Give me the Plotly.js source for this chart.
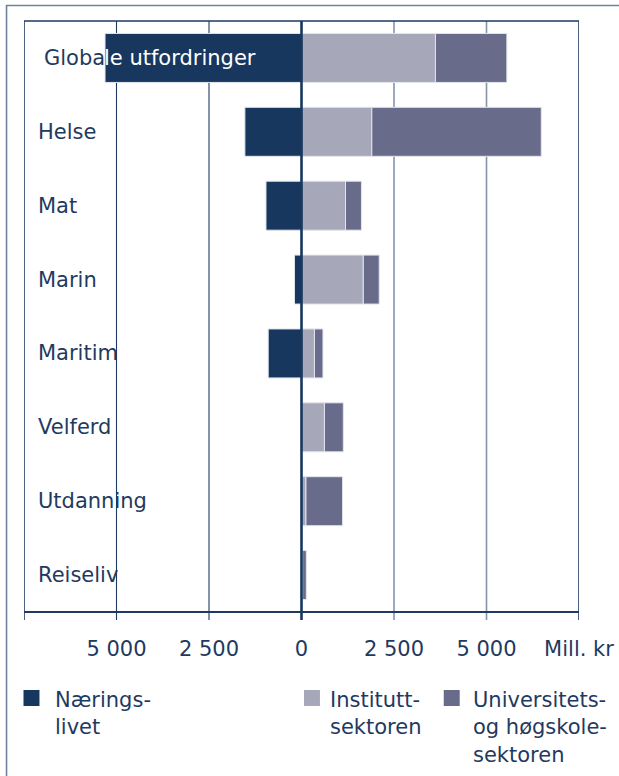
<!DOCTYPE html>
<html>
<head>
<meta charset="utf-8">
<script src="https://cdn.plot.ly/plotly-3.0.1.min.js"></script>
<style>
html,body{margin:0;padding:0;background:#fff;overflow:hidden;}
#chart{width:619px;height:776px;}
</style>
</head>
<body>
<div id="chart"></div>
<script>
// Data (Mill. kr)
const categories = ["Globale utfordringer","Helse","Mat","Marin","Maritim","Velferd","Utdanning","Reiseliv"];
const naeringslivet = [-5310, -1530, -960, -190, -900, 0, 0, 0];
const instituttsektoren = [3620, 1900, 1190, 1670, 350, 620, 120, 30];
const uhsektoren = [1930, 4580, 430, 430, 230, 510, 990, 100];
const seriesNames = ["Nærings-<br>livet", "Institutt-<br>sektoren", "Universitets-<br>og høgskole-<br>sektoren"];
const tickVals = [-7500, -5000, -2500, 0, 2500, 5000, 7500];
const tickLabels = ["", "5 000", "2 500", "0", "2 500", "5 000", "Mill. kr"];

const colors = ["#17375e", "#a6a7b8", "#686b8a"];
const txt = "#1f3a60";
const FONT = "DejaVu Sans, Verdana, sans-serif";

// plot area in pixels
const L = 23.5, R = 579.5, T = 21, B = 612, W = 619, H = 776;
const px = x => (x - L) / (R - L);
const py = y => (B - y) / (B - T);

const barLine = {color: "#e3e5ec", width: 1};
const traces = [
  {type: "bar", orientation: "h", y: categories, x: naeringslivet, name: "Næringslivet",
   marker: {color: colors[0], line: barLine}, hoverinfo: "x+y"},
  {type: "bar", orientation: "h", y: categories, x: instituttsektoren, name: "Instituttsektoren",
   marker: {color: colors[1], line: barLine}, hoverinfo: "x+y"},
  {type: "bar", orientation: "h", y: categories, x: uhsektoren, name: "Universitets- og høgskolesektoren",
   marker: {color: colors[2], line: barLine}, hoverinfo: "x+y"}
];

const shapes = [];
const ext = py(B + 8); // tick extension below axis
// outer frame
shapes.push({type: "rect", xref: "paper", yref: "paper", x0: px(6), x1: px(900), y0: py(1200), y1: py(5.5),
  line: {color: "#6f829c", width: 1.6}, fillcolor: "rgba(0,0,0,0)", layer: "below"});
// gridlines (with tick extension)
tickVals.forEach(v => {
  if (v === 0) return;
  const right = v > 0 && v < 7500;
  shapes.push({type: "line", xref: "x", yref: "paper", x0: v, x1: v, y0: ext, y1: 1,
    line: {color: right ? "#8395ad" : "#1f3a60", width: right ? 1.6 : (Math.abs(v) === 7500 ? 1.6 : 1.1)}, layer: "below"});
});
// top border
shapes.push({type: "line", xref: "paper", yref: "paper", x0: 0, x1: 1, y0: 1, y1: 1,
  line: {color: "#1f3a60", width: 1.4}, layer: "below"});
// bottom axis line
shapes.push({type: "line", xref: "paper", yref: "paper", x0: 0, x1: 1, y0: 0, y1: 0,
  line: {color: "#1f3a60", width: 2}, layer: "above"});
// zero line
shapes.push({type: "line", xref: "x", yref: "paper", x0: 0, x1: 0, y0: ext, y1: 1,
  line: {color: "#17375e", width: 2.6}, layer: "above"});

const annotations = [];
categories.forEach((c, i) => {
  if (i === 0) {
    annotations.push({xref: "x", yref: "y", x: naeringslivet[0], y: c, xshift: 2, text: "Globa", showarrow: false,
      xanchor: "right", yanchor: "middle", font: {family: FONT, size: 21, color: txt}});
    annotations.push({xref: "x", yref: "y", x: naeringslivet[0], y: c, xshift: -3.5, text: "le utfordringer", showarrow: false,
      xanchor: "left", yanchor: "middle", font: {family: FONT, size: 21, color: "#ffffff"}});
  } else {
    annotations.push({xref: "paper", yref: "y", x: px(36), y: c, text: c, showarrow: false,
      xanchor: "left", yanchor: "middle", font: {family: FONT, size: 21, color: txt}});
  }
});

// legend
const legX = [23, 304, 444];
const legTextX = [53, 328, 471];
seriesNames.forEach((n, i) => {
  shapes.push({type: "rect", xref: "paper", yref: "paper", x0: px(legX[i]), x1: px(legX[i] + 16),
    y0: py(706), y1: py(690), fillcolor: colors[i], line: {width: 0}});
  annotations.push({xref: "paper", yref: "paper", x: px(legTextX[i]), y: py(686), text: n, showarrow: false,
    xanchor: "left", yanchor: "top", align: "left", font: {family: FONT, size: 21, color: txt}});
});

const layout = {
  width: W, height: H,
  margin: {l: L, r: W - R, t: T, b: H - B, pad: 0},
  paper_bgcolor: "#fff", plot_bgcolor: "#fff",
  barmode: "relative", bargap: 0.337,
  showlegend: false,
  xaxis: {range: [-7500, 7500], tickvals: tickVals, ticktext: tickLabels, showgrid: false, zeroline: false,
    showline: false, ticks: "", ticklabelstandoff: 22,
    tickfont: {family: FONT, size: 21, color: txt}, fixedrange: true},
  yaxis: {autorange: "reversed", showticklabels: false, showgrid: false, zeroline: false, showline: false,
    ticks: "", fixedrange: true},
  shapes: shapes,
  annotations: annotations,
  font: {family: FONT, color: txt}
};

Plotly.newPlot("chart", traces, layout, {displayModeBar: false, staticPlot: true});
</script>
</body>
</html>
